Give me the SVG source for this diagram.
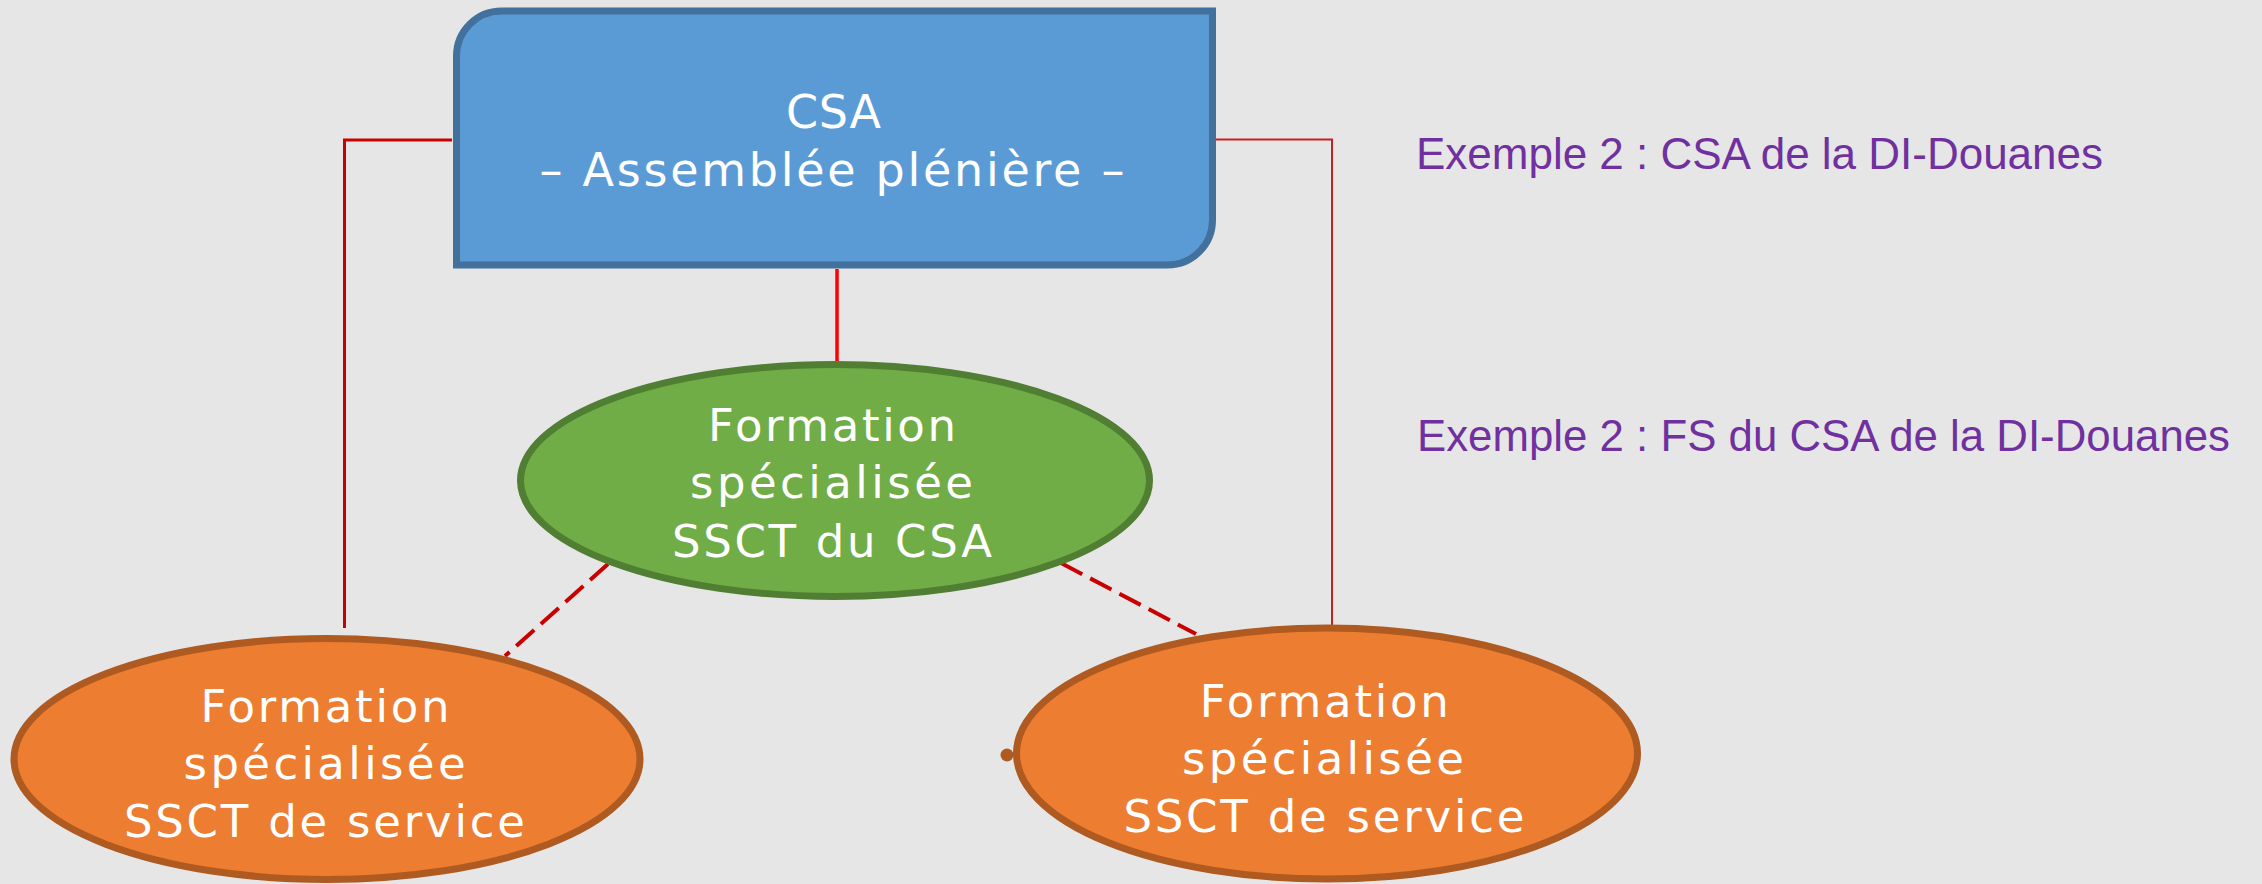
<svg xmlns="http://www.w3.org/2000/svg" width="2262" height="884" viewBox="0 0 2262 884">
<style>
.node-text{font-family:"DejaVu Sans","Liberation Sans",Arial,sans-serif;fill:#FFFFFF;text-anchor:middle;}
.note{font-family:"Liberation Sans",Arial,sans-serif;fill:#7030A0;font-size:44px;}
.solid{fill:none;stroke-linecap:butt;}
.dash{fill:none;stroke:#C80000;stroke-width:4;stroke-dasharray:24 9;}
.orange{fill:#ED7D31;stroke:#AE5A21;stroke-width:7;}
</style>
<rect x="0" y="0" width="2262" height="884" fill="#E7E6E6"/>
<g id="connectors">
<polyline class="solid" points="452,140 344.5,140 344.5,628" stroke="#C80000" stroke-width="3"/>
<polyline class="solid" points="1216,139.5 1332,139.5 1332,625" stroke="#C82020" stroke-width="2"/>
<line class="solid" x1="837" y1="269" x2="837" y2="361" stroke="#FF0000" stroke-width="3.5"/>
<line class="dash" x1="608" y1="564" x2="505" y2="656"/>
<line class="dash" x1="1061" y1="563" x2="1196" y2="634"/>
<circle cx="1007" cy="755" r="6.5" fill="#AE5A21"/>
</g>
<g id="csa">
<path d="M456.5,56 A45,45 0 0 1 501.5,11 H1212.5 V220 A45,45 0 0 1 1167.5,265 H456.5 Z" fill="#5B9BD5" stroke="#41719C" stroke-width="7"/>
<text class="node-text" x="833.5" y="128" font-size="46" textLength="95" lengthAdjust="spacing">CSA</text>
<text class="node-text" x="832" y="186" font-size="46" textLength="585" lengthAdjust="spacing">– Assemblée plénière –</text>
</g>
<g id="fs-csa">
<ellipse cx="835" cy="480.5" rx="314.5" ry="116" fill="#70AD47" stroke="#507E32" stroke-width="7"/>
<text class="node-text" x="832" y="440.7" font-size="45" textLength="248" lengthAdjust="spacing">Formation</text>
<text class="node-text" x="831.5" y="498" font-size="45" textLength="283" lengthAdjust="spacing">spécialisée</text>
<text class="node-text" x="832" y="556.7" font-size="45" textLength="320" lengthAdjust="spacing">SSCT du CSA</text>
</g>
<g id="fs-service-left">
<ellipse class="orange" cx="327" cy="759" rx="313" ry="120.5"/>
<text class="node-text" x="325" y="721.7" font-size="45" textLength="249" lengthAdjust="spacing">Formation</text>
<text class="node-text" x="324.6" y="779.3" font-size="45" textLength="282" lengthAdjust="spacing">spécialisée</text>
<text class="node-text" x="324.4" y="837.3" font-size="45" textLength="401" lengthAdjust="spacing">SSCT de service</text>
</g>
<g id="fs-service-right">
<ellipse class="orange" cx="1327" cy="753.5" rx="310.5" ry="125.5"/>
<text class="node-text" x="1324.3" y="716.7" font-size="45" textLength="249" lengthAdjust="spacing">Formation</text>
<text class="node-text" x="1322.9" y="774" font-size="45" textLength="282" lengthAdjust="spacing">spécialisée</text>
<text class="node-text" x="1323.9" y="831.7" font-size="45" textLength="401" lengthAdjust="spacing">SSCT de service</text>
</g>
<g id="notes">
<text class="note" x="1416" y="169" textLength="687" lengthAdjust="spacingAndGlyphs">Exemple 2 : CSA de la DI-Douanes</text>
<text class="note" x="1417" y="451" textLength="813" lengthAdjust="spacingAndGlyphs">Exemple 2 : FS du CSA de la DI-Douanes</text>
</g>
</svg>
